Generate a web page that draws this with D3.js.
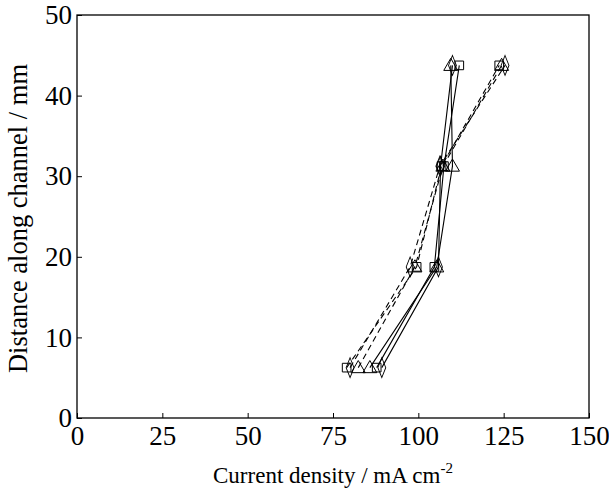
<!DOCTYPE html>
<html><head><meta charset="utf-8">
<script src="https://cdn.jsdelivr.net/npm/d3@7"></script>
<style>body{margin:0;background:#fff}svg{display:block}</style>
</head><body><svg id="c" width="609" height="494"></svg>
<script>
const distance = [6.25, 18.75, 31.25, 43.75];
const solidSquare   = [87.8, 104.7, 107.5, 112.0];
const solidTriangle = [85.8, 105.4, 110.0, 109.5];
const solidDiamond  = [89.3, 105.9, 106.5, 110.0];
const dashSquare    = [79.0, 99.5, 106.8, 123.7];
const dashTriangle  = [82.4, 99.0, 107.2, 124.4];
const dashDiamond   = [80.0, 97.6, 106.3, 125.4];
const xTicks = [0, 25, 50, 75, 100, 125, 150];
const yTicks = [0, 10, 20, 30, 40, 50];

const series = [
  {v: solidSquare, m: "square", dash: null},
  {v: solidTriangle, m: "triangle", dash: null},
  {v: solidDiamond, m: "diamond", dash: null},
  {v: dashSquare, m: "square", dash: "6,4"},
  {v: dashTriangle, m: "triangle", dash: "6,4"},
  {v: dashDiamond, m: "diamond", dash: "6,4"}
];

const L = 77, R = 589, T = 15, B = 418;
const svg = d3.select("#c");
const x = d3.scaleLinear().domain([0, 150]).range([L, R]);
const y = d3.scaleLinear().domain([0, 50]).range([B, T]);
const font = "'Liberation Serif', 'Times New Roman', Times, serif";

// axes
const xa = svg.append("g").attr("transform", `translate(0,${B})`)
  .call(d3.axisBottom(x).tickValues(xTicks).tickSizeInner(-5).tickSizeOuter(0).tickPadding(8));
const ya = svg.append("g").attr("transform", `translate(${L},0)`)
  .call(d3.axisLeft(y).tickValues(yTicks).tickSizeInner(-5).tickSizeOuter(0).tickPadding(5));
[xa, ya].forEach(g => {
  g.select(".domain").remove();
  g.selectAll("line").attr("stroke", "#000").attr("stroke-width", 1);
  g.selectAll("text").style("font-family", font).attr("font-size", 27).attr("fill", "#000");
});
ya.selectAll("text").attr("dy", "0.32em");
xa.selectAll("text").attr("dy", "0.71em");

// box
svg.append("rect").attr("x", L).attr("y", T).attr("width", R - L).attr("height", B - T)
  .attr("fill", "none").attr("stroke", "#000").attr("stroke-width", 1.3);

// lines
const line = d3.line().x(d => x(d[0])).y(d => y(d[1]));
series.forEach(s => {
  const pts = s.v.map((v, i) => [v, distance[i]]);
  svg.append("path").attr("d", line(pts)).attr("fill", "none").attr("stroke", "#000")
    .attr("stroke-width", 1.1).attr("stroke-dasharray", s.dash);
});
// markers
const sym = {square: d3.symbolSquare, triangle: d3.symbolTriangle, diamond: d3.symbolDiamond};
const size = {square: 75, triangle: 85, diamond: 85};
series.forEach(s => {
  svg.append("g").selectAll("path").data(s.v.map((v, i) => [v, distance[i]])).join("path")
    .attr("transform", d => `translate(${x(d[0])},${y(d[1]) + (s.m === "triangle" ? 1 : 0)})` + (s.m === "diamond" ? " scale(0.8,1.15)" : ""))
    .attr("d", d3.symbol(sym[s.m], size[s.m])())
    .attr("fill", "none").attr("stroke", "#000").attr("stroke-width", 1);
});

// titles
const xt = svg.append("text").attr("x", 333).attr("y", 483).attr("text-anchor", "middle")
  .style("font-family", font).attr("font-size", 23).attr("fill", "#000");
xt.append("tspan").text("Current density / mA cm");
xt.append("tspan").attr("dy", -10).attr("font-size", 15).text("-2");
svg.append("text").attr("transform", `translate(27,${(T + B) / 2 + 2}) rotate(-90)`)
  .attr("text-anchor", "middle").style("font-family", font).attr("font-size", 26.5).attr("fill", "#000")
  .text("Distance along channel / mm");
</script></body></html>
